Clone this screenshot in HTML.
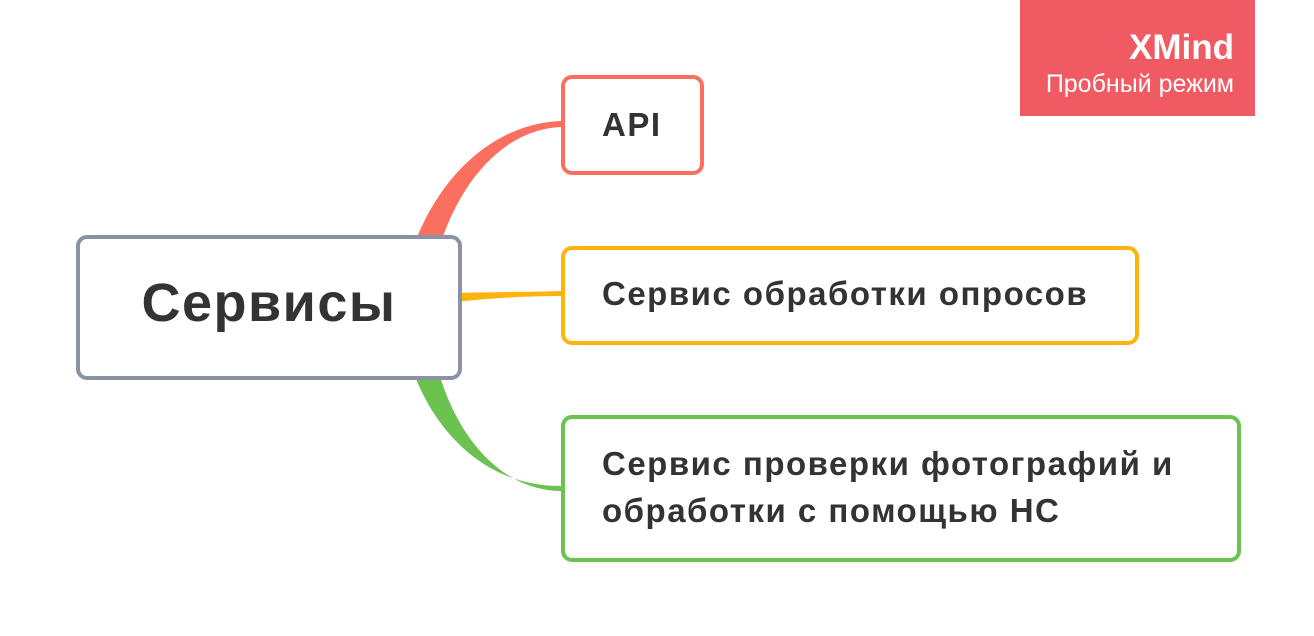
<!DOCTYPE html>
<html><head><meta charset="utf-8"><style>
body{margin:0;width:1314px;height:636px;background:#fff;position:relative;overflow:hidden;font-family:"Liberation Sans","DejaVu Sans",sans-serif;}
.box{position:absolute;box-sizing:border-box;background:#fff;border-radius:11px;border:4px solid;}
.t{position:absolute;color:#333;font-weight:bold;font-size:33px;letter-spacing:1.5px;white-space:nowrap;}
</style></head><body>
<svg width="1314" height="636" style="position:absolute;left:0;top:0">
<path d="M400 300 C415 200 480 124 561 121 L561 127 C492 130 440 205 428 300 Z" fill="#fa6f5d"/>
<path d="M400 320 C415 420 480 487 561 486 L561 491 C492 490 440 420 428 320 Z" fill="#6cc24f"/>
<path d="M455 293 C490 292 530 292 561 291 L561 296 C530 296 490 298 455 302 Z" fill="#ffb30f"/>
</svg>
<div class="box" style="left:76px;top:235px;width:386px;height:145px;border-color:#8a93a4;"></div>
<div class="t" style="left:76px;top:272px;width:386px;text-align:center;font-size:54px;letter-spacing:1.5px;">Сервисы</div>
<div class="box" style="left:561px;top:75px;width:143px;height:100px;border-color:#fa6f5d;"></div>
<div class="t" style="left:602px;top:106px;">API</div>
<div class="box" style="left:561px;top:246px;width:578px;height:99px;border-color:#ffb30f;"></div>
<div class="t" style="left:602px;top:275px;">Сервис обработки опросов</div>
<div class="box" style="left:561px;top:415px;width:680px;height:147px;border-color:#6cc24f;"></div>
<div class="t" style="left:602px;top:440px;line-height:47px;">Сервис проверки фотографий и<br>обработки с помощью НС</div>
<div style="position:absolute;left:1020px;top:0;width:235px;height:116px;background:#f05b63;color:#fff;text-align:right;">
<div style="position:absolute;right:21px;top:28px;font-size:35px;font-weight:bold;">XMind</div>
<div style="position:absolute;right:21px;top:70px;font-size:25px;">Пробный режим</div>
</div>
</body></html>
